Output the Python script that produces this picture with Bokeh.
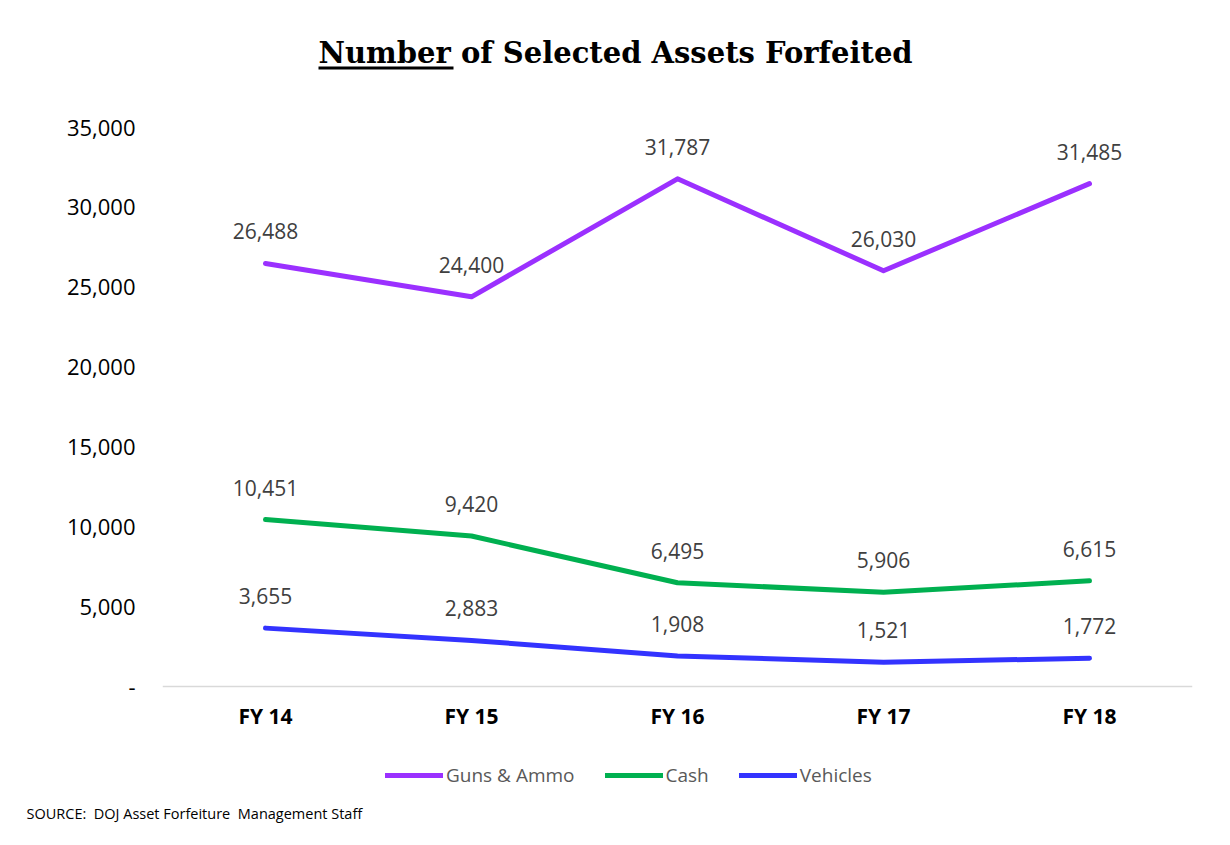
from bokeh.plotting import figure
from bokeh.models import (ColumnDataSource, Label, Legend, LegendItem, Range1d,
                          FixedTicker, CustomJSTickFormatter, BoxAnnotation, Title)
from bokeh.core.properties import value
from bokeh.embed import file_html
from bokeh.resources import INLINE

years = ["FY 14", "FY 15", "FY 16", "FY 17", "FY 18"]
guns = [26488, 24400, 31787, 26030, 31485]
cash = [10451, 9420, 6495, 5906, 6615]
vehicles = [3655, 2883, 1908, 1521, 1772]
series_names = ["Guns & Ammo", "Cash", "Vehicles"]
series_colors = ["#9B30FF", "#00B050", "#3333FF"]
y_ticks = [0, 5000, 10000, 15000, 20000, 25000, 30000, 35000]
y_max_tick = 35000

W, H = 1225, 840
FL, FR = 162, 1192               # frame left/right (page px)
Y35, Y0 = 127, 686               # page y of 35,000 and of 0
FT, FB = 0, 797                  # frame top/bottom (page px), extended for title & legend
upp = y_max_tick / (Y0 - Y35)    # data units per pixel
y_start = -(FB - Y0) * upp
y_end = y_max_tick + (Y35 - FT) * upp

p = figure(x_range=years, y_range=Range1d(y_start, y_end), width=W, height=H,
           output_backend="svg", toolbar_location=None,
           min_border_left=FL, min_border_right=W - FR,
           min_border_top=FT, min_border_bottom=H - FB)
p.outline_line_color = None
p.xgrid.grid_line_color = None
p.ygrid.grid_line_color = None

# axes
p.yaxis.ticker = FixedTicker(ticks=y_ticks)
p.yaxis.formatter = CustomJSTickFormatter(code="return tick == 0 ? '-' : tick.toLocaleString('en-US');")
p.yaxis.axis_line_color = None
p.yaxis.major_tick_line_color = None
p.yaxis.minor_tick_line_color = None
p.yaxis.major_label_text_font = "Open Sans"
p.yaxis.major_label_text_font_size = "22px"
p.yaxis.major_label_text_color = "#000000"
p.yaxis.major_label_standoff = 21

p.xaxis.fixed_location = 0
p.xaxis.axis_line_color = "#D9D9D9"
p.xaxis.axis_line_width = 1.5
p.xaxis.major_tick_line_color = None
p.xaxis.minor_tick_line_color = None
p.xaxis.major_label_text_font = "Open Sans"
p.xaxis.major_label_text_font_style = "bold"
p.xaxis.major_label_text_font_size = "21px"
p.xaxis.major_label_text_color = "#000000"
p.xaxis.major_label_standoff = 9

items = []
for name, vals, col in zip(series_names, [guns, cash, vehicles], series_colors):
    src = ColumnDataSource(dict(x=years, y=vals, lab=[f"{v:,}" for v in vals]))
    r = p.line("x", "y", source=src, line_color=col, line_width=5,
               line_cap="round", line_join="round")
    p.text("x", "y", text="lab", source=src, text_align="center",
           text_baseline="middle", y_offset=-32, text_color="#404040",
           text_font=value("Open Sans"), text_font_size="21px")
    items.append(LegendItem(label=name, renderers=[r]))

legend = Legend(items=items, orientation="horizontal", location=(385 - FL, FB - 788),
                glyph_width=58, glyph_height=20, label_height=20,
                label_standoff=3, spacing=30, padding=0, margin=0,
                border_line_color=None, background_fill_alpha=0,
                label_text_font="Open Sans", label_text_font_size="19px",
                label_text_color="#595959")
p.add_layout(legend)

# chart title (first word underlined)
title = Label(x=318 - FL, y=FB - 52, x_units="screen", y_units="screen",
              text="Number of Selected Assets Forfeited",
              text_font="DejaVu Serif", text_font_style="bold",
              text_font_size="29px", text_color="#000000",
              text_baseline="alphabetic")
p.add_layout(title)
underline = BoxAnnotation(left=318 - FL, right=453 - FL, top=FB - 66, bottom=FB - 69,
                          left_units="screen", right_units="screen",
                          top_units="screen", bottom_units="screen",
                          fill_color="#000000", fill_alpha=1, line_color=None)
p.add_layout(underline)

source = Title(text="SOURCE:\u00a0 DOJ Asset Forfeiture\u00a0 Management Staff",
               align="left", offset=26 - FL, standoff=8,
               text_font="Open Sans", text_font_size="14.5px",
               text_font_style="normal", text_color="#000000")
p.add_layout(source, "below")

open("out.html", "w").write(file_html(p, INLINE))
